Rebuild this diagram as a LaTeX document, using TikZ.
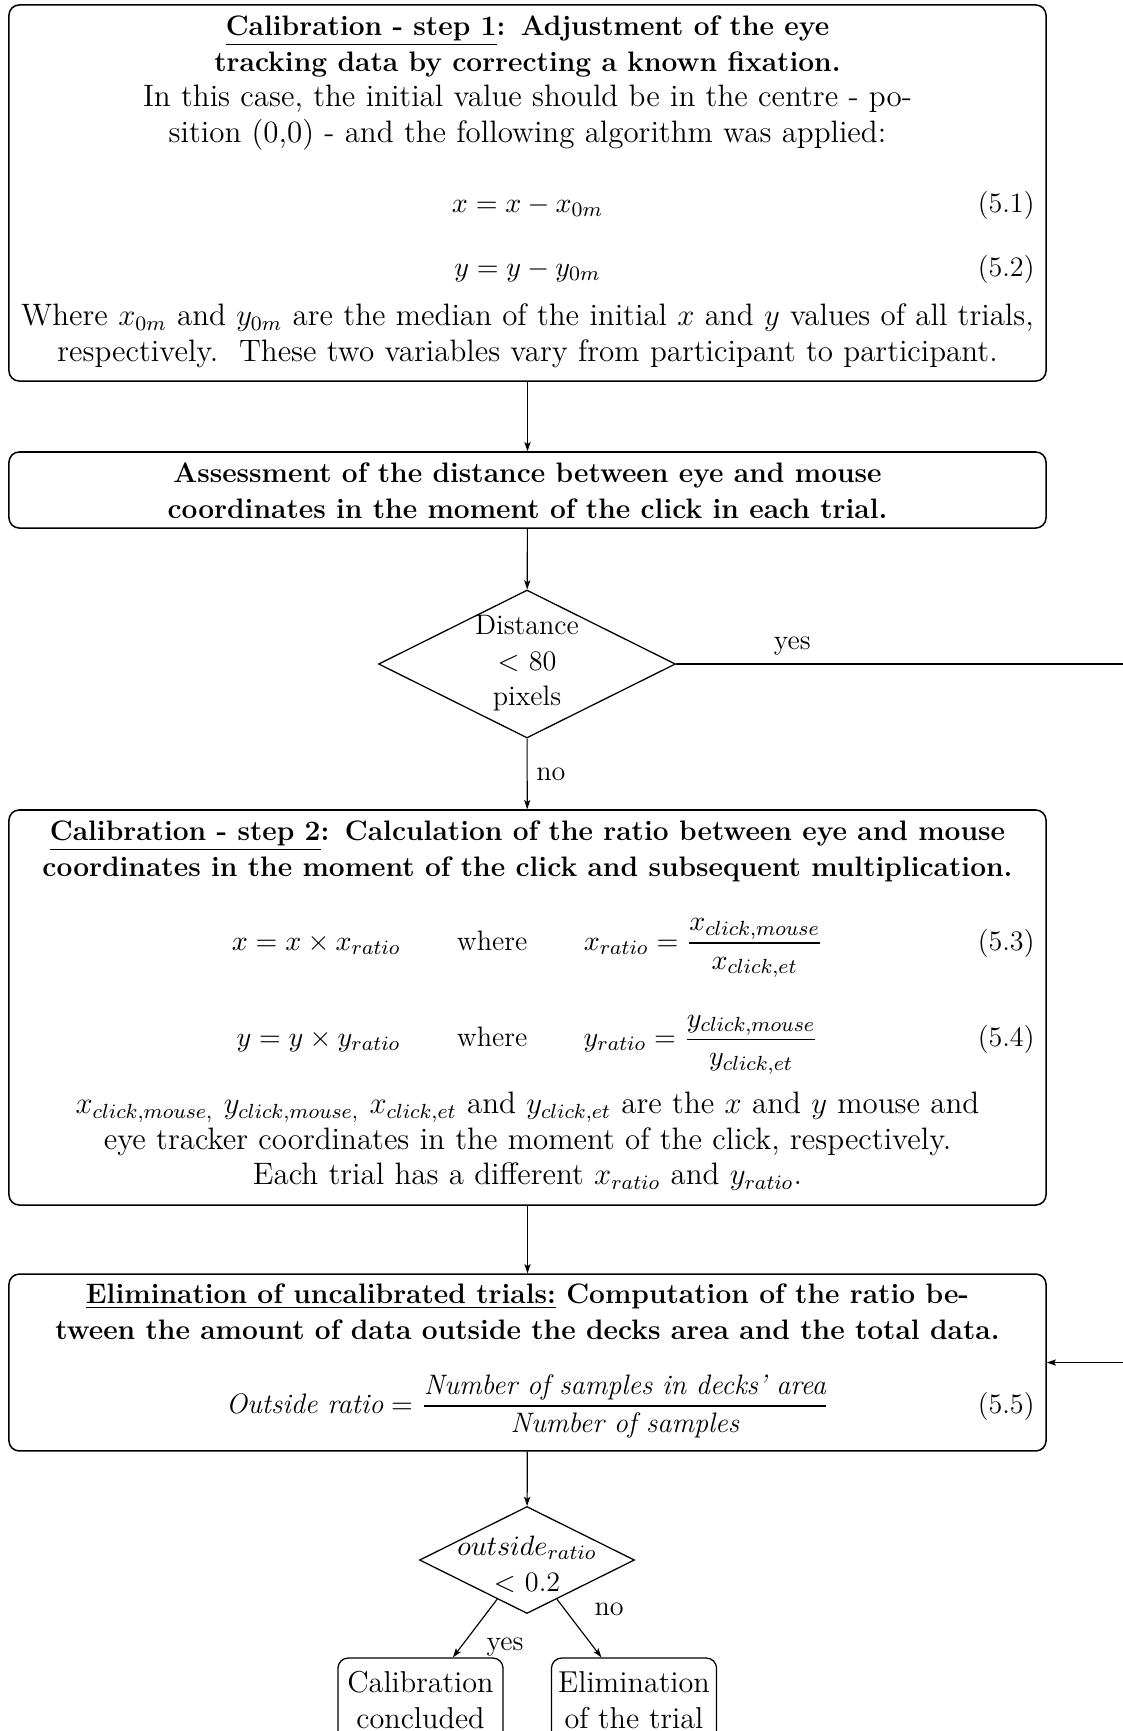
\documentclass[tikz,border=0pt]{standalone}
\usepackage{amsmath}
\usetikzlibrary{shapes.geometric,arrows.meta}

% running text, headings, and formulas
\newcommand{\flowfont}{\fontsize{12.1}{13.95}\selectfont}
\newcommand{\smallflow}{\fontsize{11}{13.95}\selectfont}
\newcommand{\hd}[1]{{\smallflow\bfseries #1}}

\tikzset{
  frame/.style={draw, rounded corners=4pt, line width=0.6pt, minimum width=405.1pt, inner sep=0pt},
  decision/.style={draw, diamond, inner sep=0pt, line width=0.5pt},
  para/.style={inner sep=0pt, text width=420pt, align=center, anchor=north, font=\flowfont},
  eqn/.style={inner sep=0pt, anchor=base, font=\smallflow},
  eqnum/.style={inner sep=0pt, anchor=base east, font=\smallflow},
  conn/.style={-{Stealth[length=3.6pt,width=2.4pt,inset=0.8pt]}, line width=0.45pt},
  tag/.style={font=\smallflow},
  endbox/.style={draw, rounded corners=4pt, line width=0.5pt, minimum width=64.5pt,
    minimum height=32.8pt, align=center, inner sep=0pt, font=\fontsize{11.8}{13.95}\selectfont}
}

\begin{document}
\begin{tikzpicture}[x=0.390625pt, y=-0.390625pt]
\useasboundingbox (0,0) rectangle (1123,1731);
\clip (0,0) rectangle (1123,1731);

% frames of the process steps and decisions
\node[frame, minimum height=146.9pt] (b1) at (527.5,193) {};
\node[frame, minimum height=29.7pt] (b2) at (527.5,490) {};
\node[frame, minimum height=154.3pt] (b3) at (527.5,1007.5) {};
\node[frame, minimum height=69.1pt] (b4) at (527.5,1362.5) {};
\node[decision, minimum width=116pt, minimum height=57.8pt] (d1) at (527,664) {};
\node[decision, minimum width=84pt, minimum height=41.8pt] (d2) at (527,1560) {};
\node[endbox] (c1) at (420.5,1700) {Calibration\\concluded};
\node[endbox] (c2) at (634,1700) {Elimination\\of the trial};

% step 1
\node[para] (t1) at (527.5,10) {\strut\hd{\underline{Calibration - step 1}: Adjustment of the eye}\\
  \hd{tracking data by correcting a known fixation.}\\
  In this case, the initial value should be in the centre - po-\\
  sition (0,0) - and the following algorithm was applied:};
\node[eqn] (e1) at (527.5,212) {$\displaystyle x = x - x_{0m}$};
\node[eqnum] (n1) at (1035,212) {(5.1)};
\node[eqn] (e2) at (527.5,276) {$\displaystyle y = y - y_{0m}$};
\node[eqnum] (n2) at (1035,276) {(5.2)};
\node[para] (t1b) at (527.5,300) {\strut Where $x_{0m}$ and $y_{0m}$ are the median of the initial $x$ and $y$ values of all trials,\\
  respectively.\ \ These two variables vary from participant to participant.};

% distance assessment
\node[para] (t2) at (527.5,457) {\strut\hd{Assessment of the distance between eye and mouse}\\
  \hd{coordinates in the moment of the click in each trial.}};

% first decision
\node[para, text width=80pt, font=\smallflow] (d1t) at (527,609) {\strut Distance\\$<$ 80\\pixels};

% step 2
\node[para] (t3) at (527.5,815) {\strut\hd{\underline{Calibration - step 2}: Calculation of the ratio between eye and mouse}\\
  \hd{coordinates in the moment of the click and subsequent multiplication.}};
\node[eqn] (e3) at (527.5,950) {$\displaystyle x = x \times x_{ratio} \qquad \text{where} \qquad x_{ratio} = \frac{x_{click,mouse}}{x_{click,et}}$};
\node[eqnum] (n3) at (1035,950) {(5.3)};
\node[eqn] (e4) at (527.5,1046.7) {$\displaystyle y = y \times y_{ratio} \qquad \text{where} \qquad y_{ratio} = \frac{y_{click,mouse}}{y_{click,et}}$};
\node[eqnum] (n4) at (1035,1046.7) {(5.4)};
\node[para] (t3b) at (527.5,1088) {\strut $x_{click,mouse,}$ $y_{click,mouse,}$ $x_{click,et}$ and $y_{click,et}$ are the $x$ and $y$ mouse and\\
  eye tracker coordinates in the moment of the click, respectively.\\
  Each trial has a different $x_{ratio}$ and $y_{ratio}$.};

% elimination step
\node[para] (t4) at (527.5,1278) {\strut\hd{\underline{Elimination of uncalibrated trials:} Computation of the ratio be-}\\
  \hd{tween the amount of data outside the decks area and the total data.}};
\node[eqn] (e5) at (527.5,1413) {$\displaystyle \textit{Outside ratio} = \frac{\textit{Number of samples in decks' area}}{\textit{Number of samples}}$};
\node[eqnum] (n5) at (1035,1413) {(5.5)};

% second decision
\node[para, text width=80pt, font=\smallflow] (d2t) at (527,1530) {\strut$outside_{ratio}$\\$<$ 0.2};

% connectors
\draw[conn] (b1) -- (b2);
\draw[conn] (b2) -- (d1);
\draw[conn] (d1) -- node[tag, right] {no} (b3);
\coordinate (yesturn) at (1160,664);
\draw[conn] (d1.east) -- node[tag, pos=0.24, above] {yes} (yesturn) |- (b4.east);
\draw[conn] (b3) -- (b4);
\draw[conn] (b4) -- (d2);
\draw[conn] (d2) -- node[tag, pos=0.82, anchor=west, xshift=6.5pt] {yes} (c1);
\draw[conn] (d2) -- node[tag, pos=0.18, anchor=west, xshift=8pt] {no} (c2);
\end{tikzpicture}
\end{document}
